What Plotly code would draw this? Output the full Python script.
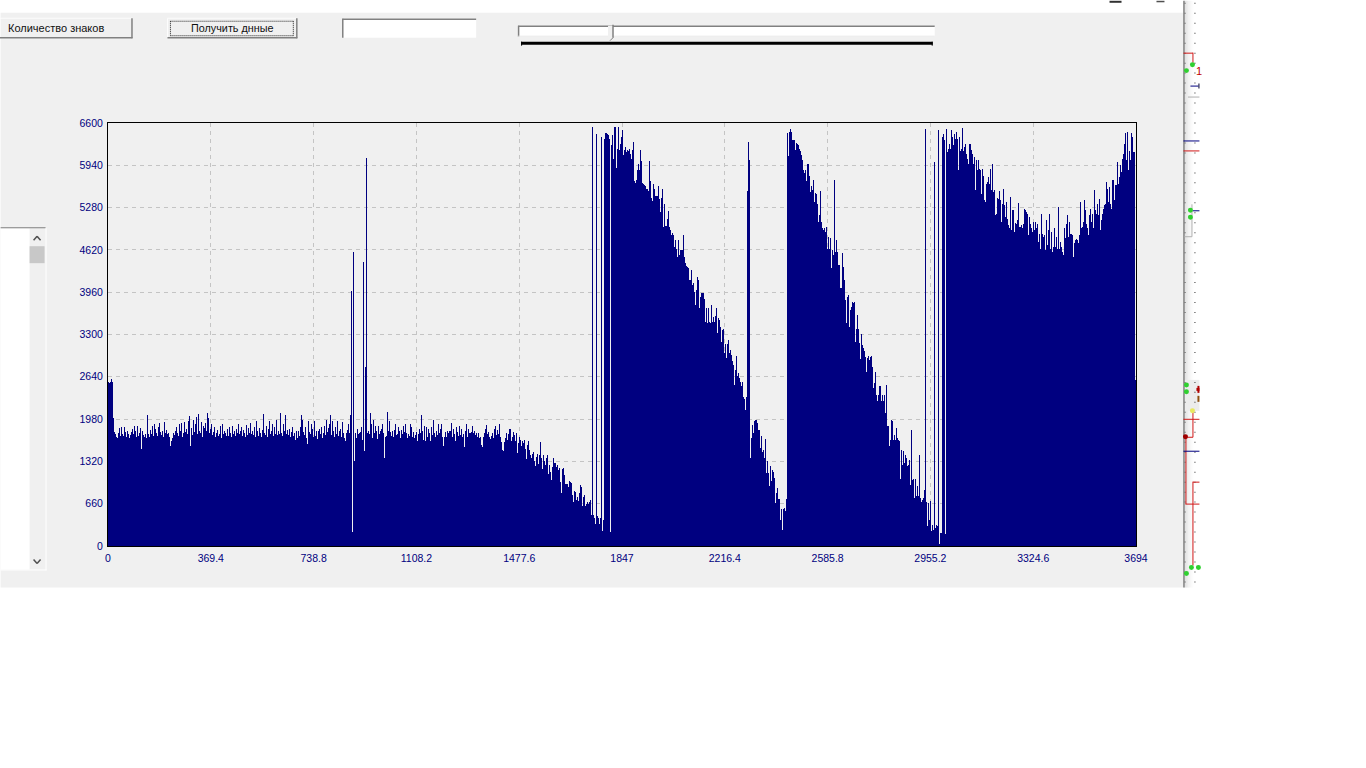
import plotly.graph_objects as go

# Column heights, left to right
flat_start = [
 2560,2540,2560,2600,2560,1990,1780,1740,1700,1690,1770,1840,1710,1850,1740,1710,1860,1780,1700,1790,
 1740,1690,1730,1780,1820,1740,1870,1800,1700,1880,1720,1760,1840,1510,1800,1730,1700,1740,1690,2040,
 1750,1700,1810,1740,1880,1720,1900,1830,1760,1710,1850,1920,1780,1730,1800,1700,1930,1760,1810,1740,
 1770,1700,1560,1640,1680,1760,1730,1800,1860,1760,1720,1900,1790,1920,1700,1760,1930,1780,1830,1740,
 1950,2030,1560,1840,1730,1960,1780,1900,2010,1740,2060,1800,1760,1930,1700,1880,1840,1920,1790,2070,
 2000,1760,1820,1900,1730,1780,1850,1700,1760,1810,1720,1750,1870,1690,1900,1740,1800,1760,1710,1830,
 1720,1860,1770,1700,1880,1740,1790,1720,1830,1760,1900,1740,1790,1850,1720,1810,1760,1700,1890,1730,
 1840,1770,1920,1740,1800,1730,1850,1700,1950,1790,1720,1840,1760,1700,1810,2060,1770,1730,1880,1700,
 1830,1950,1740,1800,1900,1710,1860,1750,1960,1730,1800,1740,2080,1770,1720,1900,1790,2040,1750,1810,
 1730,1830,1700,1780,1850,1720,1760,1650,1800,1680,1790,1720,1860,2040,1960,1780,1730,1850,1690,1590,
 1950,1780,1740,1900,1820,1700,1950,1720,1800,1670,1790,1830,1740,1850,1690,1760,1870,1730,1960,1780,
 1840,1900,2040,1730,1950,1790,1700,1860,1740,1950,1720,1790,1820,1700,1930,1760,1680,1640,1760,1810,
 1900,1760,2050,3980]
first_spikes = [215,4580,1330,1760,1690,1820,1750,1760,1780,1850,1660,4430,1490,2800,6050,1760,1790,1740]
flat_fall = [
 2070,1900,1680,1970,1760,1880,1800,1670,1880,1740,1790,1820,1900,1760,1380,1700,1720,2090,1800,1950,
 1780,1720,1790,1700,1810,1900,1730,1750,1850,1790,1680,1810,1740,1880,1780,1900,1760,1680,1740,1710,
 1900,1850,1700,1780,1690,1730,1780,1640,1750,1830,1760,2040,1800,1650,1880,1640,1860,1700,1830,1760,
 1640,1850,1730,1970,1760,1700,1800,1730,1900,1770,1830,1910,1700,1560,1700,1780,1700,1800,1760,1800,
 1800,1920,1700,1830,1750,1640,1860,1780,1720,1880,1730,1830,1700,1750,1550,1790,1900,1700,1820,1760,
 1760,1780,1870,1760,1800,1730,1760,1700,1760,1680,1700,1580,1550,1700,1760,1830,1890,1750,1780,1700,
 1670,1720,1760,1690,1820,1880,1730,1810,1740,1900,1700,1620,1500,1480,1620,1680,1760,1660,1740,1820,
 1820,1640,1700,1780,1730,1640,1760,1450,1600,1700,1660,1560,1640,1600,1660,1520,1360,1570,1640,1500,
 1420,1380,1430,1470,1330,1250,1390,1440,1280,1420,1630,1380,1200,1420,1320,1260,1380,1420,1130,1270,
 1150,1030,1230,1370,1300,1290,1240,1270,1190,1220,1000,830,1200,1220,1110,960,960,960,920,1010,
 1000,980,800,680,860,840,720,760,700,820,950,920,620,760,790,620,660,690,650,690,
 720,480]
comb_one = [6530,480,430,340,6430,470,440,340,430,6380,230,400,6350,6450,6440,6430,6420,6350,215,6250]
slope_one = [
 6410,6040,6530,6530,5900,6200,6530,6175,6280,6380,6495,6100,6175,6225,6150,6175,6165,6200,6120,6040,
 6175,6300,5695,5665,5715,5860,5965,5860,6175,6005,5670,5650,5630,5610,5575,5575,5540,6005,5695,5435,
 5385,5655,5575,5455,5455,5455,5610,5420,5210,5435,5575,4980,5335,4990,4990,5110,5230,4980,4930,4850,
 4885,4850,4670,4780,4640,4510,4780,4540,4625,4625,4625,4850,4510,4410,4370,4355,4330,4150,4150,4305,
 4070,4110,3965,3760,3995,4200,4150,3710,3890,3940,3950,3940,3860,3500,3710,3475,3710,3500,3475,3760,
 3500,3580,3500,3590,3710,3330,3550,3525,3420,3190,3370,3380,3010,3150,2930,3150,3215,3010,3060,2980,
 2880,2825,2515,2750,2965,2645,2700,2620,2565,2490,2565,2330,2300,2125,2330,5540]
mid_drop = [
 6310,6030,1370,1685,1890,1770,1945,1970,1970,1915,1815,1815,1530,1710,1460,1500,1370,1670,1140,1325,
 1140,940,1250,1010,1180,1150,1060,670,830,905,740,740,410,570,255,570,595,540,735]
slope_two = [
 6440,6080,6460,6510,6460,6330,6330,6340,6175,6290,6280,6250,6200,6160,6095,6030,5860,5820,5860,5695,
 5955,5955,5770,5525,5610,5550,5715,5370,5510,5500,5340,5060,5160,5540,5060,4955,4930,4955,4900,4970,
 4640,4825,4640,4800,4330,4620,4540,5715,4590,4780,4590,4380,4380,4020,4020,4565,4355,4150,3840,3475,
 3890,3915,3420,3680,3735,3810,3795,3810,3190,3380,3605,3380,3165,2915,3310,3135,3085,3035,2945,2720,
 2930,2965,2900,2955,2965,2800,2460,2540,2720,2360,2255,2360,2490,2490,2255,2360,2255,2360,2070,2515,
 1865,1865,1555,1660,1970,1945,1660,1735,1650,1840,1685,1650,1635,1045,1500,1270,1475,1295,1425,1370,
 1245,1270,1345,955,1815,1035,1045,750,1045,775,930,775,1425,750,680,725,750,870,6510,680,
 310,670,410,700,230,335,255,5990,280,320,310,6485,20,205,205,6380,6430,6330,180,6510,
 6150,6200,6280,6200,6485,6380,6250,6430,6355,6460,6355,5860,6380,6160,6200,6525,6160,6225,6280,6120,
 6040,5965,6280,6280,6175,6120,5965,6070,5550,6020,5860,6030,5890,5860,5500]
bowl = [
 5890,5780,5395,5370,5650,5680,5760,5650,5890,5550,5955,5525,5550,5160,5185,5435,5420,5540,5395,5055,
 5340,5575,5315,5135,5370,5110,5005,4955,5445,4925,5250,5250,4900,5040,5030,5085,5355,4980,4980,5005,
 4955,5030,5265,5240,5215,5185,4850,5135,5030,4955,4900,5055,4925,5055,4955,5030,4745,4875,4640,5185,
 4875,4825,4850,4615,5085,4695,4925,5185,4640,4900,4590,4670,4955,4670,4825,4640,5290,4640,4745,4670,
 4590,4540,4955,4800,5030,5160,4825,5055,4875,4875,4850,4510,4720,4770,4785,4770,4720,4850,5370,4955,
 4980,5055,5395,5240,5030,4955,4850,5160,5265,5055,5185,4955,5550,5240,5185,5340,5160,5420,4925,5085,
 5185,5265,5315,5340,5680,5575,5370,5600,5340,5265,5705,5715,5395,5630,5630,5990,5655,5760,5940,5835,
 6040,6120,6275,6440,6020,6460,5860,6170,6020,6440,6380,6150,6150,2590]
values = flat_start + first_spikes + flat_fall + comb_one + slope_one + mid_drop + slope_two + bowl

x_max = 3694
x_ticks = [0, 369.4, 738.8, 1108.2, 1477.6, 1847, 2216.4, 2585.8, 2955.2, 3324.6, 3694]
x_tick_text = ["0", "369.4", "738.8", "1108.2", "1477.6", "1847", "2216.4", "2585.8", "2955.2", "3324.6", "3694"]
y_ticks = [0, 660, 1320, 1980, 2640, 3300, 3960, 4620, 5280, 5940, 6600]
button_left = "Количество знаков"
button_right = "Получить днные"

NAVY = "#000080"
PANEL = "#f0f0f0"
FONT = "Liberation Sans"

L, T, W, H = 107.5, 122.5, 1029, 424
def X(p): return (p - L) / W
def Y(p): return 1 - (p - T) / H

shapes = []
def rect(x0, y0, x1, y1, fill, line=None, layer="below"):
    shapes.append(dict(type="rect", xref="paper", yref="paper", x0=X(x0), x1=X(x1), y0=Y(y0), y1=Y(y1),
                       fillcolor=fill, line=dict(width=0) if line is None else dict(color=line, width=1), layer=layer))
def seg(x0, y0, x1, y1, color, w=1, dash=None):
    shapes.append(dict(type="line", xref="paper", yref="paper", x0=X(x0), x1=X(x1), y0=Y(y0), y1=Y(y1),
                       line=dict(color=color, width=w, dash=dash), layer="below"))
def dot(x, y, r, color):
    shapes.append(dict(type="circle", xref="paper", yref="paper", x0=X(x-r), x1=X(x+r), y0=Y(y+r), y1=Y(y-r),
                       fillcolor=color, line=dict(width=0), layer="below"))

# window panel
rect(0, 12, 1184, 588, PANEL)

# raised buttons
def button(x0, y0, x1, y1):
    seg(x0, y0, x1, y0, "#fcfcfc")
    seg(x0, y0, x0, y1, "#fcfcfc")
    seg(x0, y1-0.5, x1, y1-0.5, "#808080", 1.5)
    seg(x1-0.5, y0, x1-0.5, y1, "#808080", 1.5)
button(-2, 17.5, 132, 37.5)
button(167, 17.5, 297, 37.5)
seg(170, 20.5, 293, 20.5, "#202020", 1, "1px,1px")
seg(170, 35, 293, 35, "#202020", 1, "1px,1px")
seg(170, 20.5, 170, 35, "#202020", 1, "1px,1px")
seg(293, 20.5, 293, 35, "#202020", 1, "1px,1px")

# edit box
rect(342, 18, 476, 37, "#ffffff")
seg(342, 18.5, 476, 18.5, "#808080", 1.5)
seg(342.5, 18, 342.5, 37, "#808080", 1.5)

# slider
rect(518, 25, 935, 36, "#ffffff")
seg(518, 25.5, 935, 25.5, "#808080", 1.5)
seg(518.5, 25, 518.5, 36, "#808080", 1.5)
seg(518, 35.5, 935, 35.5, "#e8e8e8")
rect(608, 25, 613, 37, PANEL)
seg(613, 24, 613, 37, "#808080", 1.5)
seg(613, 37, 610, 40, "#808080", 1)
rect(521, 41, 933, 44, "#000000")
seg(521.5, 41, 521.5, 45, "#000000")
seg(932.5, 41, 932.5, 45, "#000000")

# list box with scroll bar
rect(0, 228, 29, 570, "#ffffff")
seg(0, 227.5, 45, 227.5, "#808080")
seg(0, 570.5, 46, 570.5, "#ffffff")
seg(45.5, 228, 45.5, 571, "#ffffff")
rect(29, 246, 44, 263, "#c8c8c8")
seg(33, 240, 36.5, 236, "#505050", 1.5)
seg(36.5, 236, 40, 240, "#505050", 1.5)
seg(33, 560, 36.5, 564, "#505050", 1.5)
seg(36.5, 564, 40, 560, "#505050", 1.5)

# neighbouring window strip
for i, shade in enumerate(["#d4d4d4", "#dcdcdc", "#e2e2e2", "#e8e8e8", "#eeeeee", "#f2f2f2", "#f6f6f6", "#fafafa", "#fcfcfc", "#fefefe"]):
    rect(1185 + i, 0, 1186 + i, 588, shade)
rect(1195, 0, 1200, 588, "#ffffff")
rect(1185, 380, 1200, 411, "#ececec")
for row in range(59):
    for col in (1185, 1195):
        rect(col, 2 + row * 10, col + 1, 3 + row * 10, "#303030")
seg(1184.5, 0, 1184.5, 588, "#808080", 1.5)
RED, BLUE, GREEN = "#d01818", "#000080", "#30d030"
seg(1184, 52.5, 1193.5, 52.5, RED); seg(1193.5, 52, 1193.5, 62, RED)
seg(1191, 85.5, 1199, 85.5, BLUE); rect(1199, 83, 1200, 88, "#000030")
seg(1188.5, 96.5, 1200, 96.5, "#b0b0b0")
seg(1184, 140.5, 1200, 140.5, BLUE); seg(1184, 150.5, 1200, 150.5, RED)
seg(1193, 210.5, 1200, 210.5, BLUE)
seg(1192.5, 204, 1192.5, 236.5, "#b0b0b0"); seg(1185, 236.5, 1192.5, 236.5, "#b0b0b0")
seg(1184, 419.5, 1200, 419.5, RED)
seg(1193.5, 411, 1193.5, 437.5, RED); seg(1186, 437.5, 1193.5, 437.5, RED)
seg(1186.5, 437, 1186.5, 504.5, RED); seg(1186, 504.5, 1200, 504.5, RED)
seg(1184, 451.5, 1200, 451.5, BLUE)
seg(1193.5, 482.5, 1200, 482.5, RED); seg(1193.5, 482, 1193.5, 566, RED)
rect(1197, 388, 1200, 391, "#b00000"); rect(1198, 386, 1200, 393, "#b00000"); rect(1198, 396, 1200, 402, "#905010")
for dx, dy in [(1193, 64), (1187, 70), (1191, 210), (1191, 217), (1187, 385), (1187, 392), (1192, 568), (1199, 568), (1187, 574)]:
    dot(dx, dy, 2.5, GREEN)
dot(1193, 411, 2.5, "#e8e860")
dot(1186, 437, 2.5, "#a00000")
rect(1110, 0, 1122, 2, "#303030"); rect(1157, 0, 1165, 1.5, "#505050")

def label(text, x, y, color="#101010", size=11, anchor="left"):
    return dict(text=text, xref="paper", yref="paper", x=X(x), y=Y(y), xanchor=anchor, yanchor="middle",
                showarrow=False, borderpad=0, font=dict(family=FONT, size=size, color=color))
annotations = [label(button_left, 6, 27), label(button_right, 232, 27, size=10.8, anchor="center"),
               label("1", 1196, 70, "#c00000", 11)]

step = x_max / len(values)
fig = go.Figure(go.Bar(x=[(i + 0.5) * step for i in range(len(values))], y=values, width=step,
                       marker=dict(color=NAVY, line=dict(width=0))))
axis = dict(showline=True, mirror=True, linecolor="#000000", linewidth=1, showgrid=True, gridcolor="#c4c4c4",
            griddash="4px,4px", gridwidth=1, zeroline=False, ticks="outside", ticklen=2,
            tickcolor="rgba(0,0,0,0)", tickfont=dict(family=FONT, size=10.5, color=NAVY), fixedrange=True)
fig.update_layout(
    width=1366, height=768, showlegend=False, bargap=0,
    margin=dict(l=L, r=1366 - L - W, t=T, b=768 - T - H, pad=0),
    paper_bgcolor="#ffffff", plot_bgcolor="rgba(0,0,0,0)",
    xaxis=dict(axis, range=[0, x_max], tickmode="array", tickvals=x_ticks, ticktext=x_tick_text, tickangle=0),
    yaxis=dict(axis, range=[0, 6600], tickmode="array", tickvals=y_ticks, ticktext=[str(v) for v in y_ticks]),
    shapes=shapes, annotations=annotations,
)
fig.write_html("out.html", config=dict(displayModeBar=False),
               post_script="document.body.style.margin='0';document.body.style.overflow='hidden';")
